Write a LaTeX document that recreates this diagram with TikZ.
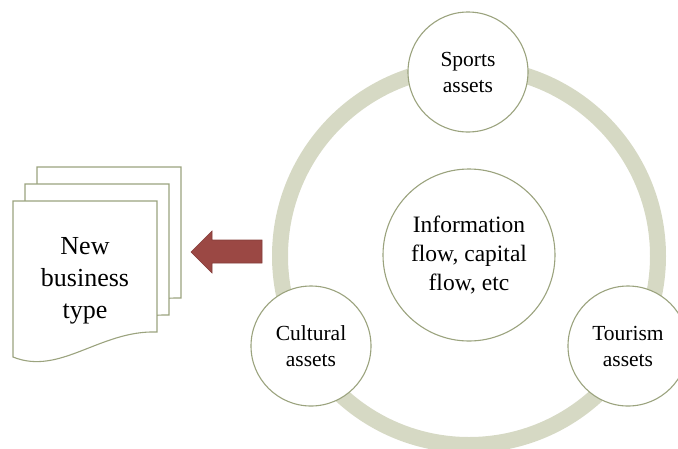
\documentclass[tikz,border=0pt]{standalone}
\usepackage{fontspec}
\setmainfont{Liberation Serif}
\usetikzlibrary{positioning}
\definecolor{ringgreen}{HTML}{D6D9C4}
\definecolor{rimolive}{HTML}{9BA37E}
\definecolor{arrowred}{HTML}{9B4844}
\begin{document}
\begin{tikzpicture}[x=1pt,y=-1pt,
  asset/.style={circle,draw=rimolive,fill=white,line width=1.1pt,align=center,inner sep=0pt,
    font=\fontsize{21.5}{26}\selectfont},
  page/.style={draw=rimolive,fill=white,line width=1.1pt}]
\useasboundingbox (0,0) rectangle (678,448);
\draw[ringgreen,line width=16pt] (469,256) circle[radius=189];
\node[asset,minimum size=172,font=\fontsize{23.5}{29}\selectfont](hub) at (469,255){Information\\flow, capital\\flow, etc};
\foreach \name/\pos/\t in {sports/{(468,72)}/Sports,cultural/{(311,346)}/Cultural,tourism/{(628,346)}/Tourism}
  \node[asset,minimum size=120](\name) at \pos {\t\\assets};
% stacked pages
\foreach \i in {2,1,0}
  \draw[page,shift={(12*\i,-17*\i)}] (13,201) -- (157,201) -- (157,332)
    .. controls (100,330) and (60,376) .. (13,357) -- cycle;
\node[font=\fontsize{26}{32}\selectfont,align=center](newtype) at (85,281){New\\business\\type};
% block arrow
\filldraw[fill=arrowred,draw=arrowred!85!black,line width=.6pt]
  (262,240) -- (212,240) -- (212,231) -- (191,252) -- (212,273) -- (212,263) -- (262,263) -- cycle;
\end{tikzpicture}
\end{document}
